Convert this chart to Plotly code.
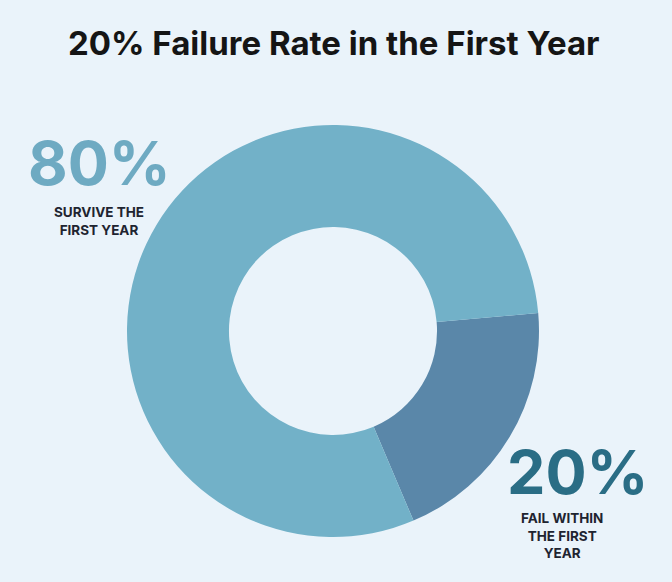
import plotly.graph_objects as go

labels = ["Fail within the first year", "Survive the first year"]
values = [20, 80]
colors = ["#5a87a9", "#72b1c8"]

title_text = "20% Failure Rate in the First Year"
survive_pct = "80%"
survive_txt = "SURVIVE THE<br>FIRST YEAR"
fail_pct = "20%"
fail_txt = "FAIL WITHIN<br>THE FIRST<br>YEAR"

BG = "#eaf3fa"

fig = go.Figure(go.Pie(
    labels=labels, values=values, hole=0.505, sort=False,
    direction="clockwise", rotation=85,
    marker=dict(colors=colors, line=dict(width=0)),
    textinfo="none", showlegend=False,
    domain=dict(x=[127/672, 539/672], y=[45/582, 457/582]),
))

def ann(text, x, y, size, color, family="Inter"):
    fig.add_annotation(text=text, x=x/672, y=1 - y/582,
                       xref="paper", yref="paper", showarrow=False,
                       xanchor="center", yanchor="middle", align="center",
                       font=dict(family=family, size=size, color=color))

ann("<b>" + title_text + "</b>", 334, 43, 33, "#151515")
ann("<b>" + survive_pct + "</b>", 99, 163, 61, "#6eaac2")
ann("<b>" + survive_txt + "</b>", 99, 221, 13.5, "#1e2430")
ann("<b>" + fail_pct + "</b>", 578, 472, 61, "#2a6d85")
ann("<b>" + fail_txt + "</b>", 562, 535, 13.5, "#1e2430")

fig.update_layout(width=672, height=582, margin=dict(l=0, r=0, t=0, b=0),
                  paper_bgcolor=BG, plot_bgcolor=BG)
fig.write_html("out.html", config={"displayModeBar": False},
               post_script="document.body.style.margin='0';document.body.style.background='" + BG + "';")
